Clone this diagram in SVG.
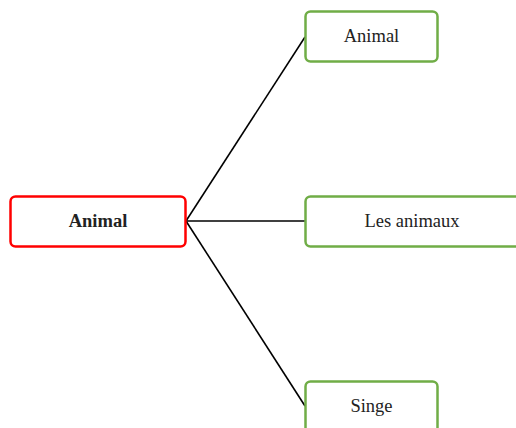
<svg xmlns="http://www.w3.org/2000/svg" width="516" height="428" viewBox="0 0 516 428">
<style>
.n{fill:#fff;stroke-width:2.5}
.g{stroke:#70AD47}
.r{stroke:#FF0000}
.t{font-family:"Liberation Serif",serif;font-size:18.5px;fill:#222;text-anchor:middle;dominant-baseline:central}
.c{stroke:#000;stroke-width:1.6;fill:none}
</style>
<rect width="516" height="428" fill="#fff"/>
<g id="connectors">
<line class="c" x1="186" y1="221" x2="305" y2="37"/>
<line class="c" x1="186" y1="221" x2="305" y2="221"/>
<line class="c" x1="186" y1="221" x2="305" y2="406"/>
</g>
<g id="root">
<rect class="n r" x="10.5" y="196.5" width="175" height="50" rx="5"/>
<text class="t" x="98" y="221" font-weight="bold" fill="#000">Animal</text>
</g>
<g id="n1">
<rect class="n g" x="305.5" y="11.5" width="132" height="50" rx="5"/>
<text class="t" x="371.5" y="36">Animal</text>
</g>
<g id="n2">
<rect class="n g" x="305.5" y="196.5" width="225" height="50" rx="5"/>
<text class="t" x="412" y="221">Les animaux</text>
</g>
<g id="n3">
<rect class="n g" x="305.5" y="381.5" width="132" height="60" rx="5"/>
<text class="t" x="371.5" y="406">Singe</text>
</g>
</svg>
